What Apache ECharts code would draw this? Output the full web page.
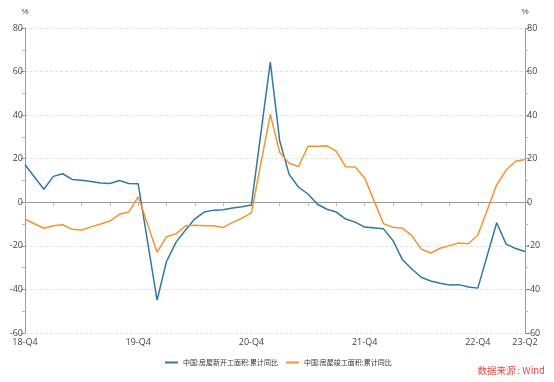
<!DOCTYPE html>
<html><head><meta charset="utf-8">
<script src="https://cdn.jsdelivr.net/npm/echarts@6/dist/echarts.min.js"></script>
<style>html,body{margin:0;padding:0;background:#fff}#c{width:554px;height:382px}</style>
</head><body><div id="c"></div>
<script>
var months = [
 '2018-12',
 '2019-01','2019-02','2019-03','2019-04','2019-05','2019-06','2019-07','2019-08','2019-09','2019-10','2019-11','2019-12',
 '2020-01','2020-02','2020-03','2020-04','2020-05','2020-06','2020-07','2020-08','2020-09','2020-10','2020-11','2020-12',
 '2021-01','2021-02','2021-03','2021-04','2021-05','2021-06','2021-07','2021-08','2021-09','2021-10','2021-11','2021-12',
 '2022-01','2022-02','2022-03','2022-04','2022-05','2022-06','2022-07','2022-08','2022-09','2022-10','2022-11','2022-12',
 '2023-01','2023-02','2023-03','2023-04','2023-05'
];
var tickLabels = {'2018-12':'18-Q4','2019-12':'19-Q4','2020-12':'20-Q4','2021-12':'21-Q4','2022-12':'22-Q4','2023-05':'23-Q2'};
var newStarts = [
 17.2,
 null, 6.0, 11.9, 13.1, 10.5, 10.1, 9.5, 8.9, 8.6, 10.0, 8.6, 8.5,
 null, -44.9, -27.2, -18.4, -12.8, -7.6, -4.5, -3.6, -3.4, -2.6, -2.0, -1.2,
 null, 64.3, 28.2, 12.8, 6.9, 3.8, -0.9, -3.2, -4.5, -7.7, -9.1, -11.4,
 null, -12.2, -17.5, -26.3, -30.6, -34.4, -36.1, -37.2, -38.0, -37.8, -38.9, -39.4,
 null, -9.4, -19.2, -21.2, -22.6
];
var completed = [
 -7.8,
 null, -11.9, -10.8, -10.3, -12.4, -12.7, -11.3, -10.0, -8.6, -5.5, -4.5, 2.6,
 null, -22.9, -15.8, -14.5, -10.9, -10.5, -10.8, -10.8, -11.6, -9.2, -7.3, -4.9,
 null, 40.4, 22.9, 17.9, 16.4, 25.7, 25.7, 26.0, 23.4, 16.3, 16.2, 11.2,
 null, -9.8, -11.5, -11.9, -15.3, -21.5, -23.3, -21.1, -19.9, -18.7, -19.0, -15.0,
 null, 8.0, 14.7, 18.8, 19.6
];
var seriesNames = ['中国:房屋新开工面积:累计同比','中国:房屋竣工面积:累计同比'];
var colors = ['#31799f','#f0952f'];

var chart = echarts.init(document.getElementById('c'), null, {renderer:'canvas'});
var axisGray = '#999';
var labelColor = '#444';
function yAx(pos){
  return {
    type:'value', position:pos, min:-60, max:80, interval:20,
    name:'%', nameLocation:'end', nameGap:12,
    nameTextStyle:{color:labelColor, fontSize:8, align:'center'},
    axisLine:{show:true, lineStyle:{color:axisGray, width:1}},
    axisTick:{show:true, inside:false, length:4, lineStyle:{color:axisGray}},
    minorTick:{show:true, splitNumber:2, length:3, lineStyle:{color:'#bbb'}},
    axisLabel:{color:labelColor, fontSize:9, margin:2, fontFamily:'Open Sans'},
    splitLine:{show: pos==='left', lineStyle:{color:'#e2e2e2', type:[3,2], width:1}}
  };
}
chart.setOption({
  animation:false,
  color:colors,
  grid:{left:25, right:29, top:28, bottom:49, containLabel:false},
  legend:{
    bottom:11, left:160, itemGap:8, itemWidth:13, itemHeight:2,
    icon:'path://M0,0H13V2H0Z',
    textStyle:{color:'#333', fontSize:7, fontFamily:'Noto Sans CJK SC'},
    data:seriesNames.map(function(n){return {name:n, icon:'path://M0,0H13V2H0Z'};})
  },
  xAxis:{
    type:'category', data:months, boundaryGap:false,
    axisLine:{lineStyle:{color:axisGray}},
    axisTick:{show:true, length:4, lineStyle:{color:'#bbb'}, interval:function(i){return i%3===0;}},
    axisLabel:{color:labelColor, fontSize:9, margin:5, fontFamily:'Open Sans',
      interval:function(i,v){return !!tickLabels[v];},
      formatter:function(v){return tickLabels[v]||'';}},
    splitLine:{show:false}
  },
  yAxis:[yAx('left'), yAx('right')],
  series:[
    {name:seriesNames[0], type:'line', data:newStarts, connectNulls:true, showSymbol:false, symbol:'none',
     lineStyle:{width:1.5, color:colors[0]}, yAxisIndex:0},
    {name:seriesNames[1], type:'line', data:completed, connectNulls:true, showSymbol:false, symbol:'none',
     lineStyle:{width:1.5, color:colors[1]}, yAxisIndex:0}
  ],
  graphic:[
    {type:'text', right:9, top:366, style:{text:'数据来源 : Wind', fill:'#e8473f', font:'9.5px "Noto Sans CJK SC"'}}
  ]
});
</script></body></html>
